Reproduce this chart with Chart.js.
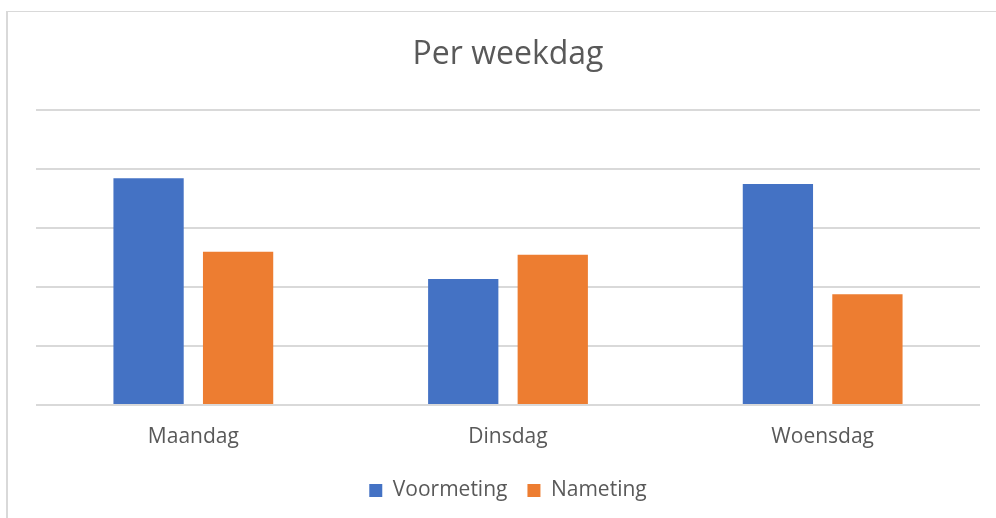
<!DOCTYPE html>
<html>
<head>
<meta charset="utf-8">
<script src="https://cdn.jsdelivr.net/npm/chart.js@4"></script>
<style>
  html, body { margin: 0; padding: 0; background: #fff; }
  #wrap { width: 996px; height: 518px; }
</style>
</head>
<body>
<div id="wrap"><canvas id="weekdagChart" width="996" height="518"></canvas></div>
<script>
  const days = ['Maandag', 'Dinsdag', 'Woensdag'];
  const voormeting = [3.85, 2.14, 3.75];
  const nameting = [2.60, 2.55, 1.88];

  const textColor = '#595959';
  const gridColor = '#d9d9d9';

  // light frame round the chart (left and top edges)
  const framePlugin = {
    id: 'frame',
    beforeDraw(chart) {
      const ctx = chart.ctx;
      ctx.save();
      ctx.fillStyle = gridColor;
      ctx.fillRect(6, 11, 2, chart.height - 11);
      ctx.fillRect(6, 11, chart.width - 6, 1);
      ctx.restore();
    }
  };

  new Chart(document.getElementById('weekdagChart'), {
    type: 'bar',
    data: {
      labels: days,
      datasets: [{
        label: 'Voormeting',
        data: voormeting,
        backgroundColor: '#4472c4',
        categoryPercentage: 0.569,
        barPercentage: 0.785
      }, {
        label: 'Nameting',
        data: nameting,
        backgroundColor: '#ed7d31',
        categoryPercentage: 0.569,
        barPercentage: 0.785
      }]
    },
    options: {
      responsive: false,
      animation: false,
      layout: { padding: { left: 36, right: 16, top: 0, bottom: 7 } },
      plugins: {
        title: {
          display: true,
          text: 'Per weekdag',
          color: textColor,
          font: { family: 'Open Sans', size: 32, weight: 'normal' },
          padding: { top: 36, bottom: 36 }
        },
        legend: {
          position: 'bottom',
          labels: {
            color: textColor,
            font: { family: 'Open Sans', size: 21 },
            boxWidth: 13,
            boxHeight: 13,
            padding: 20
          }
        },
        tooltip: { enabled: false }
      },
      scales: {
        x: {
          grid: { display: false, drawTicks: false },
          border: { display: false },
          ticks: {
            color: textColor,
            font: { family: 'Open Sans', size: 21 },
            padding: 19
          },
          afterFit(scale) { scale.height = 55; }
        },
        y: {
          min: 0,
          max: 5,
          ticks: { display: false, stepSize: 1 },
          grid: { color: gridColor, lineWidth: 2, drawTicks: false },
          border: { display: false },
          afterFit(scale) { scale.width = 0; }
        }
      }
    },
    plugins: [framePlugin]
  });
</script>
</body>
</html>
